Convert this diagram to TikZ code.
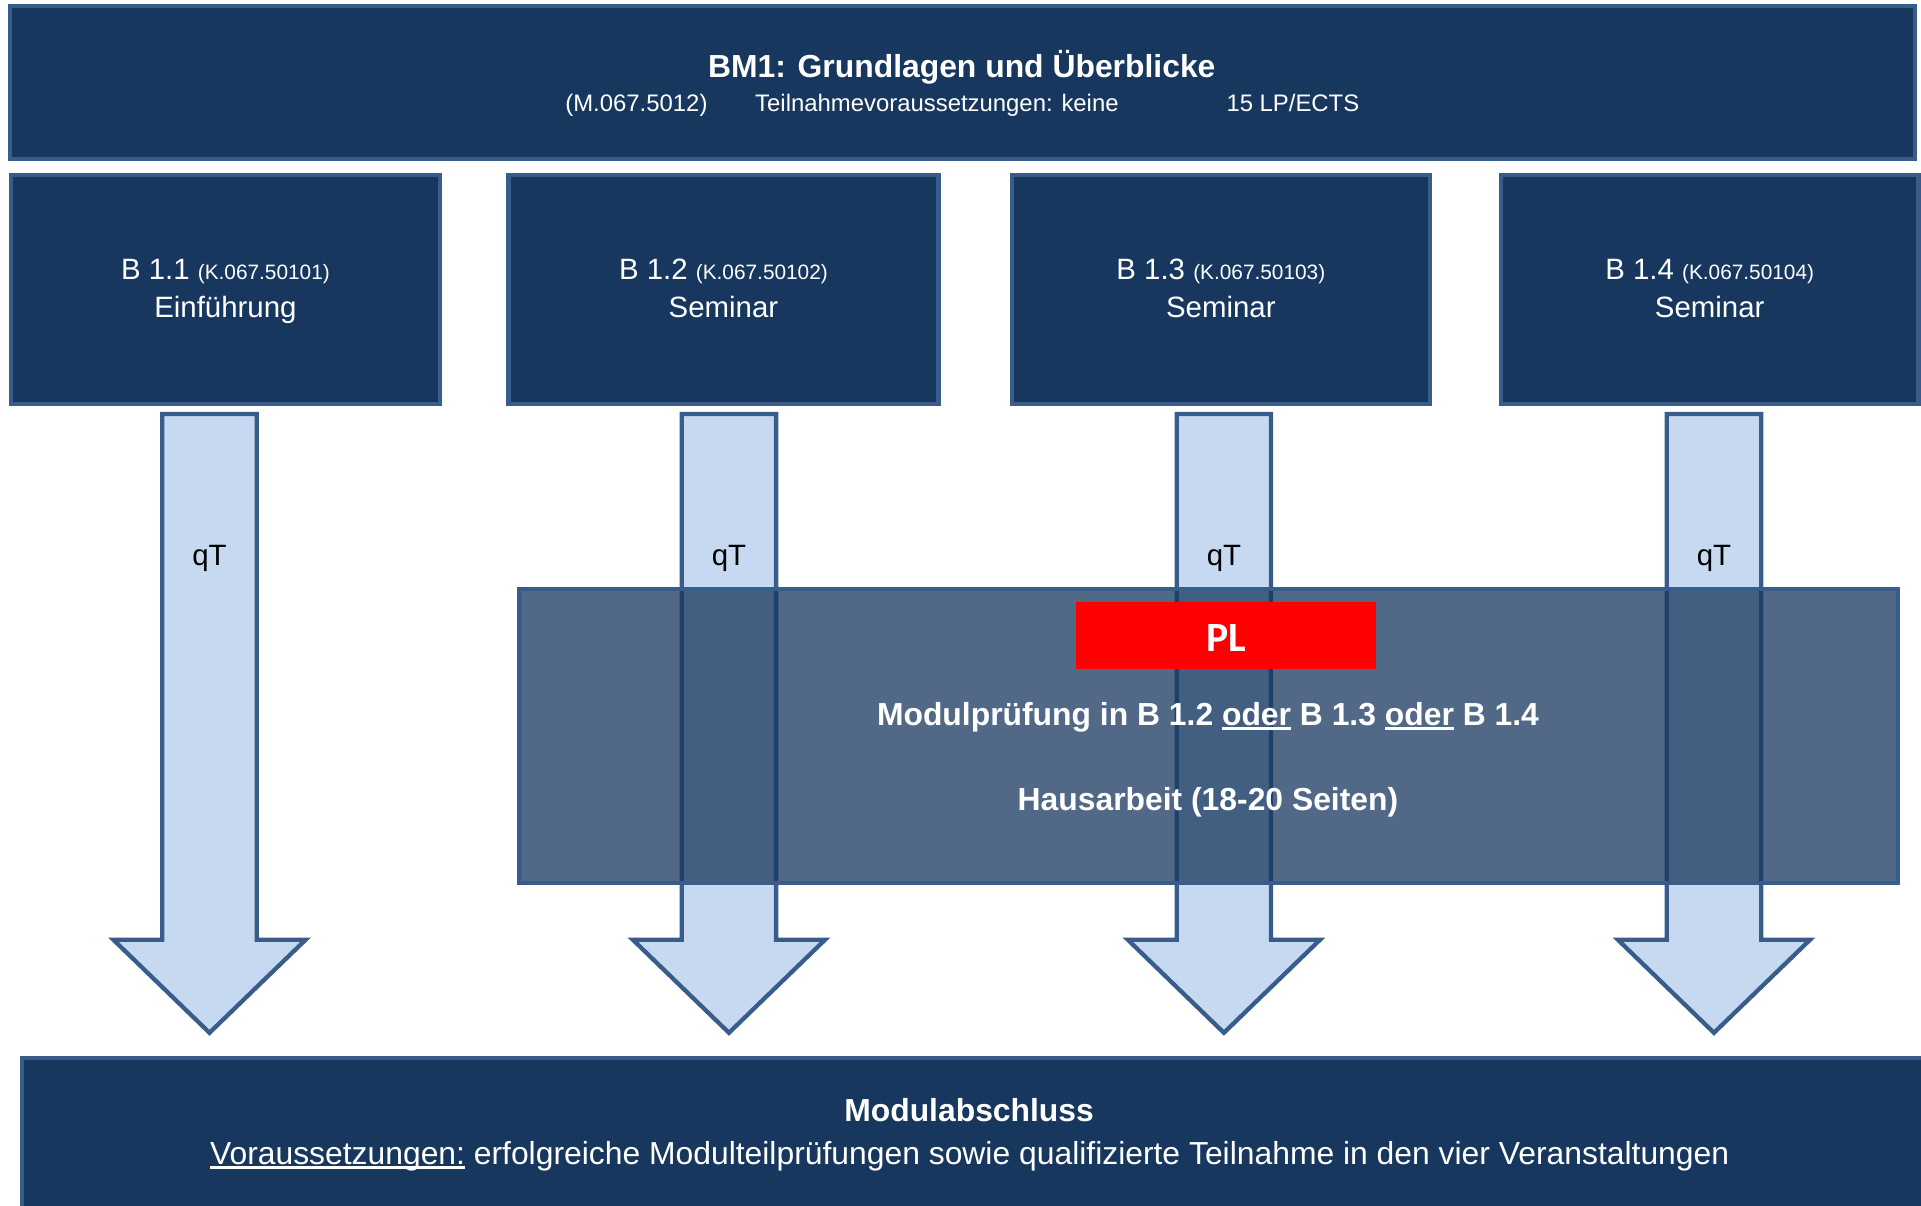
\documentclass[tikz,border=0pt]{standalone}
\usepackage{fontspec}
\setmainfont{Liberation Sans}
\newfontfamily\plfont{Carlito}
\usetikzlibrary{positioning}

\definecolor{navy}{HTML}{17375E}
\definecolor{rand}{HTML}{385D8A}
\definecolor{hellblau}{HTML}{C6D9F1}

% Unterstreichung
\newcommand{\unterstr}[1]{\setbox0=\hbox{#1}\rlap{\rule[-3.5pt]{\wd0}{2.2pt}}\box0\relax}

\begin{document}
\begin{tikzpicture}[x=1pt, y=-1pt,
    kasten/.style={draw=rand, line width=3.5pt, fill=navy, inner sep=0pt},
    pfeil/.style={draw=rand, line width=3.5pt, fill=hellblau},
    gross/.style={text=white, anchor=base, inner sep=0pt, font=\fontsize{26}{31}\selectfont\bfseries},
    klein/.style={text=white, anchor=base, inner sep=0pt, font=\fontsize{19.5}{24}\selectfont}]
  \useasboundingbox (0,0) rectangle (1568,984);
  \clip (0,0) rectangle (1568,984);

  % Modulkopf
  \node[kasten, minimum width=1555, minimum height=125] (bm) at (785.5,67.5) {};
  \node[gross] (bmtitel) at (785,63.3) {BM1: Grundlagen und Überblicke};
  \node[klein] (bminfo) at (785.5,91) {(M.067.5012)\hspace*{39pt}Teilnahmevoraussetzungen: keine\hspace*{88pt}15 LP/ECTS};

  % Veranstaltungen
  \foreach \name/\mx/\w/\nr/\art in {
    b11/184/350/1/Einführung,
    b12/590.5/351/2/Seminar,
    b13/996.5/341/3/Seminar,
    b14/1395.5/341/4/Seminar} {
    \node[kasten, minimum width=\w, minimum height=187, text=white, align=center,
      font=\fontsize{24}{31}\selectfont] (\name) at (\mx,236.5)
      {\rule{0pt}{20pt}B 1.\nr\ {\fontsize{17}{31}\selectfont(K.067.5010\nr)}\\\art\vphantom{g}};
  }

  % Pfeile mit qT
  \foreach \x [count=\i] in {171,595,999,1399} {
    \draw[pfeil] ({\x-38.5},338) -- ({\x+38.5},338) -- ({\x+38.5},767) -- ({\x+78.5},767)
      -- (\x,843) -- ({\x-78.5},767) -- ({\x-38.5},767) -- cycle;
    \node[anchor=base, inner sep=0pt, font=\fontsize{24}{31}\selectfont] (qt\i) at (\x,461.6) {qT};
  }

  % Modulpruefung
  \node[kasten, fill opacity=0.75, minimum width=1125, minimum height=240] (pruefung) at (986.5,601) {};
  \node[fill=red, minimum width=245, minimum height=55, inner sep=0pt] (plbox) at (1000.5,518.5) {};
  \node[anchor=base, inner sep=0pt, text=white, font=\fontsize{34}{40}\selectfont\plfont\bfseries] (pl) at (1001,532) {PL};
  \node[gross] (mp) at (986,592.3) {Modulprüfung in B 1.2 \unterstr{oder} B 1.3 \unterstr{oder} B 1.4};
  \node[gross] (ha) at (986,661.3) {Hausarbeit (18-20 Seiten)};

  % Modulabschluss
  \node[kasten, minimum width=1600, minimum height=160, anchor=north west] (abschluss) at (16,862) {};
  \node[gross] (abtitel) at (791,915.3) {Modulabschluss};
  \node[gross, font=\fontsize{26}{31}\selectfont] (abtext) at (791.5,950.3)
    {\unterstr{Voraussetzungen:} erfolgreiche Modulteilprüfungen sowie qualifizierte Teilnahme in den vier Veranstaltungen};
\end{tikzpicture}
\end{document}
